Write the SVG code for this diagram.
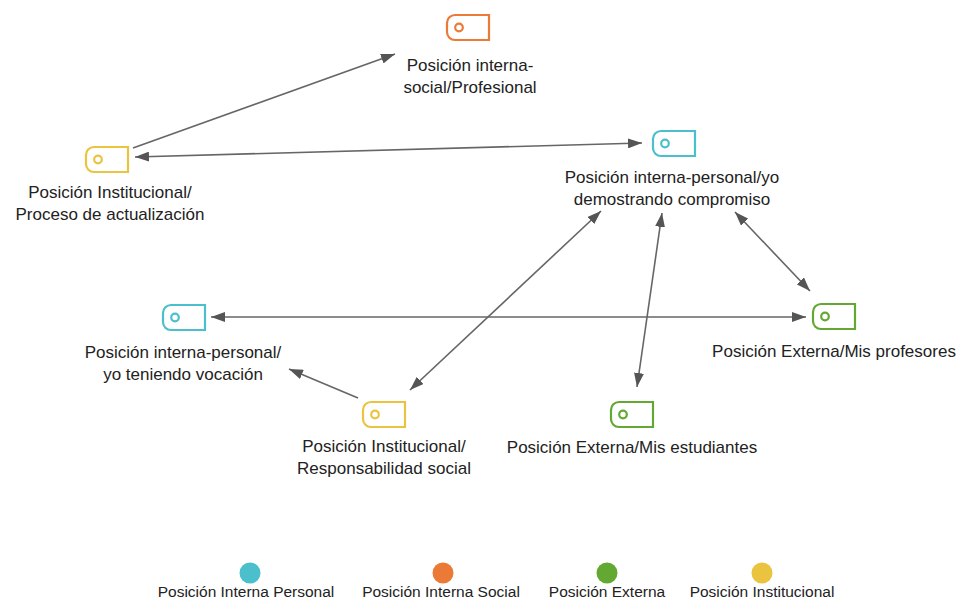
<svg xmlns="http://www.w3.org/2000/svg" width="956" height="601" viewBox="0 0 956 601">
  <style>
    .lbl { font-family: "Liberation Sans", Arial, sans-serif; font-size: 17px; fill: #222; text-anchor: middle; }
    .leg { font-family: "Liberation Sans", Arial, sans-serif; font-size: 15.5px; fill: #222; text-anchor: middle; }
    .tag { fill: #fff; stroke-width: 2.2; }
    .hole { fill: none; stroke-width: 2.2; }
    .edge { stroke: #666; stroke-width: 1.6; fill: none; }
    .cyan { stroke: #4bbfcc; }
    .orange { stroke: #eb7a37; }
    .green { stroke: #63a833; }
    .yellow { stroke: #eac43f; }
  </style>
  <defs>
    <!-- tag icon: rounded left end, square right end, punched hole -->
    <path id="tagShape" d="M8,0 H42 V25 H8 A8 8 0 0 1 0,17 V8 A8 8 0 0 1 8,0 Z"/>
    <marker id="arr" viewBox="0 0 14 10" refX="14" refY="5" markerWidth="14" markerHeight="10" markerUnits="userSpaceOnUse" orient="auto-start-reverse">
      <path d="M0,0 L14,5 L0,10 Z" fill="#555"/>
    </marker>
  </defs>

  <!-- connectors -->
  <g id="connectors">
    <line class="edge" x1="133" y1="148" x2="395" y2="54" marker-end="url(#arr)"/>
    <line class="edge" x1="135" y1="157" x2="642" y2="143" marker-start="url(#arr)" marker-end="url(#arr)"/>
    <line class="edge" x1="735" y1="212" x2="810" y2="291" marker-start="url(#arr)" marker-end="url(#arr)"/>
    <line class="edge" x1="211" y1="317" x2="806" y2="317" marker-start="url(#arr)" marker-end="url(#arr)"/>
    <line class="edge" x1="601" y1="211" x2="410" y2="390" marker-start="url(#arr)" marker-end="url(#arr)"/>
    <line class="edge" x1="662" y1="213" x2="637" y2="387" marker-start="url(#arr)" marker-end="url(#arr)"/>
    <line class="edge" x1="358" y1="398" x2="289" y2="369" marker-end="url(#arr)"/>
  </g>

  <g id="node-social-profesional">
    <g transform="translate(447,15)">
      <use href="#tagShape" class="tag orange"/>
      <circle cx="12" cy="12.5" r="3.8" class="hole orange"/>
    </g>
    <text class="lbl" x="470" y="71">Posición interna-</text>
    <text class="lbl" x="470" y="93">social/Profesional</text>
  </g>

  <g id="node-actualizacion">
    <g transform="translate(86,147)">
      <use href="#tagShape" class="tag yellow"/>
      <circle cx="12" cy="12.5" r="3.8" class="hole yellow"/>
    </g>
    <text class="lbl" x="110" y="198">Posición Institucional/</text>
    <text class="lbl" x="110" y="220">Proceso de actualización</text>
  </g>

  <g id="node-compromiso">
    <g transform="translate(653,131)">
      <use href="#tagShape" class="tag cyan"/>
      <circle cx="12" cy="12.5" r="3.8" class="hole cyan"/>
    </g>
    <text class="lbl" x="672" y="183">Posición interna-personal/yo</text>
    <text class="lbl" x="672" y="205">demostrando compromiso</text>
  </g>

  <g id="node-vocacion">
    <g transform="translate(163,305)">
      <use href="#tagShape" class="tag cyan"/>
      <circle cx="12" cy="12.5" r="3.8" class="hole cyan"/>
    </g>
    <text class="lbl" x="183" y="358">Posición interna-personal/</text>
    <text class="lbl" x="183" y="380">yo teniendo vocación</text>
  </g>

  <g id="node-profesores">
    <g transform="translate(813,304)">
      <use href="#tagShape" class="tag green"/>
      <circle cx="12" cy="12.5" r="3.8" class="hole green"/>
    </g>
    <text class="lbl" x="834" y="357">Posición Externa/Mis profesores</text>
  </g>

  <g id="node-responsabilidad">
    <g transform="translate(363,402)">
      <use href="#tagShape" class="tag yellow"/>
      <circle cx="12" cy="12.5" r="3.8" class="hole yellow"/>
    </g>
    <text class="lbl" x="384" y="452">Posición Institucional/</text>
    <text class="lbl" x="384" y="474">Responsabilidad social</text>
  </g>

  <g id="node-estudiantes">
    <g transform="translate(611,402)">
      <use href="#tagShape" class="tag green"/>
      <circle cx="12" cy="12.5" r="3.8" class="hole green"/>
    </g>
    <text class="lbl" x="632" y="453">Posición Externa/Mis estudiantes</text>
  </g>

  <!-- legend -->
  <g id="legend">
    <circle cx="250" cy="573" r="10.5" fill="#4bbfcc"/>
    <text class="leg" x="246" y="597">Posición Interna Personal</text>
    <circle cx="443" cy="573" r="10.5" fill="#eb7a37"/>
    <text class="leg" x="441" y="597">Posición Interna Social</text>
    <circle cx="607" cy="573" r="10.5" fill="#63a833"/>
    <text class="leg" x="607" y="597">Posición Externa</text>
    <circle cx="762" cy="573" r="10.5" fill="#eac43f"/>
    <text class="leg" x="762" y="597">Posición Institucional</text>
  </g>
</svg>
